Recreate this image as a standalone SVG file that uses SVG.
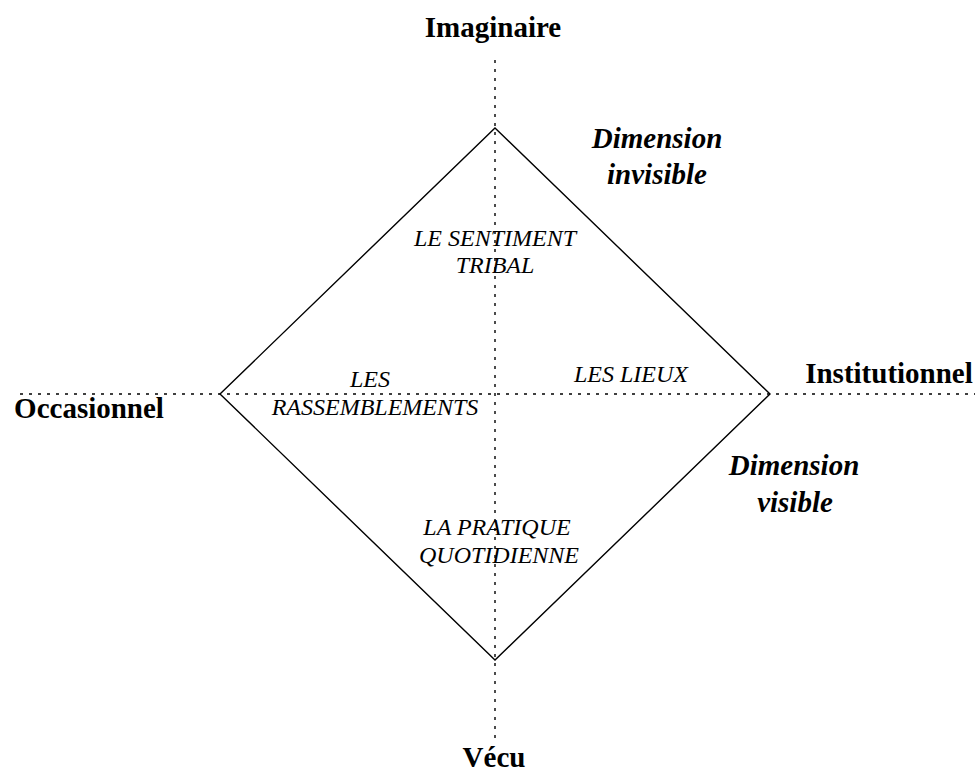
<svg xmlns="http://www.w3.org/2000/svg" width="975" height="774" viewBox="0 0 975 774">
<style>
.axis{stroke:#000;stroke-width:1.4;stroke-dasharray:3 6;fill:none}
.shape{stroke:#000;stroke-width:1.4;fill:none}
.pole{font-family:"Liberation Serif","Times New Roman",serif;font-weight:bold;font-size:29px;fill:#000;text-anchor:middle}
.dim{font-family:"Liberation Serif","Times New Roman",serif;font-weight:bold;font-style:italic;font-size:29px;fill:#000;text-anchor:middle}
.item{font-family:"Liberation Serif","Times New Roman",serif;font-style:italic;font-size:24px;fill:#000;text-anchor:middle}
</style>
<rect width="975" height="774" fill="#fff"/>
<g id="connectors">
<line class="axis" x1="495" y1="60" x2="495" y2="740"/>
<line class="axis" x1="20" y1="394" x2="975" y2="394"/>
</g>
<g id="diamond">
<polygon class="shape" points="495,128 770,394 495,660 220,394"/>
</g>
<g id="imaginaire"><text class="pole" x="493" y="37">Imaginaire</text></g>
<g id="vecu"><text class="pole" x="494" y="767">Vécu</text></g>
<g id="occasionnel"><text class="pole" x="89" y="418">Occasionnel</text></g>
<g id="institutionnel"><text class="pole" x="889" y="383">Institutionnel</text></g>
<g id="dimension-invisible"><text class="dim" x="657" y="148">Dimension</text><text class="dim" x="657" y="184">invisible</text></g>
<g id="dimension-visible"><text class="dim" x="794" y="475">Dimension</text><text class="dim" x="795" y="512">visible</text></g>
<g id="sentiment-tribal"><text class="item" x="495" y="246">LE SENTIMENT</text><text class="item" x="495" y="273">TRIBAL</text></g>
<g id="rassemblements"><text class="item" x="370" y="387">LES</text><text class="item" x="375" y="415">RASSEMBLEMENTS</text></g>
<g id="lieux"><text class="item" x="631" y="382">LES LIEUX</text></g>
<g id="pratique-quotidienne"><text class="item" x="497" y="535">LA PRATIQUE</text><text class="item" x="499" y="563">QUOTIDIENNE</text></g>
</svg>
